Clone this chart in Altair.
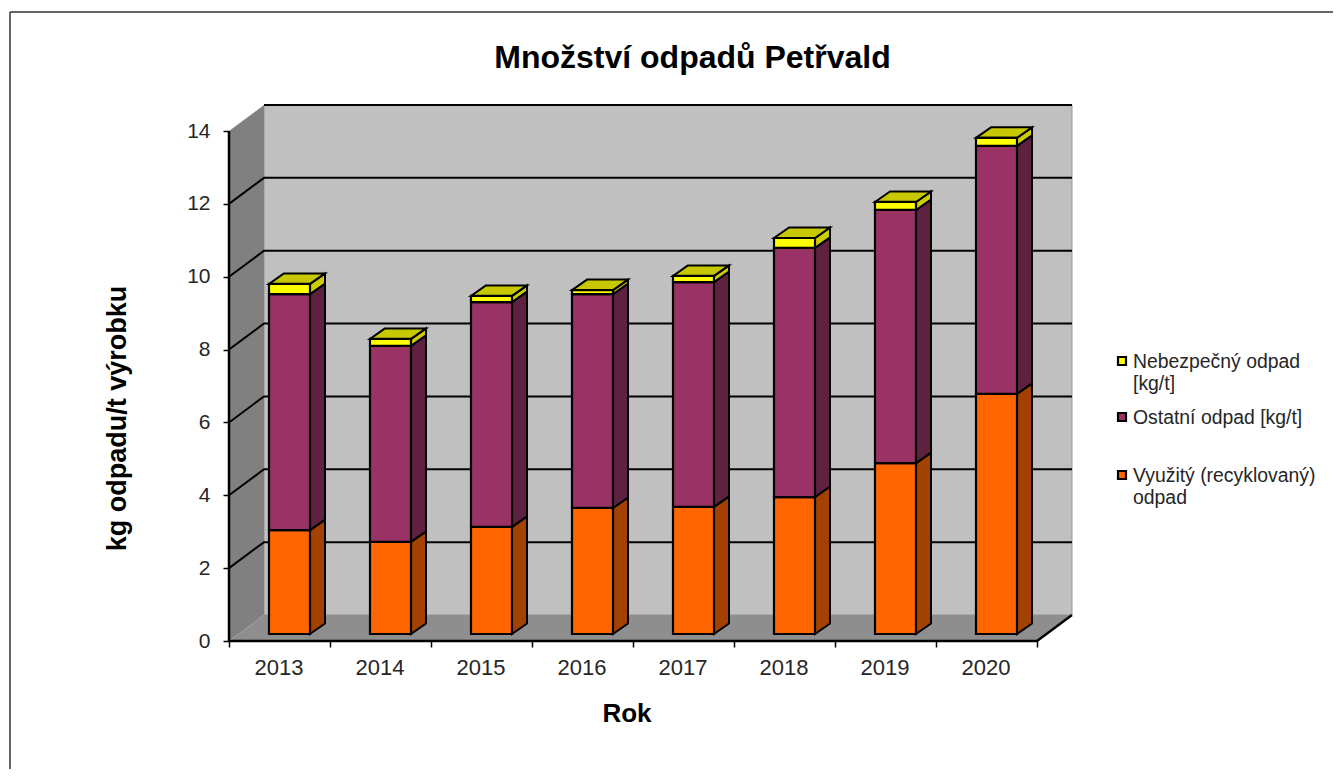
import altair as alt
import pandas as pd

YEARS = [2013, 2014, 2015, 2016, 2017, 2018, 2019, 2020]
RECYCLED = [2.85, 2.53, 2.94, 3.46, 3.49, 3.76, 4.69, 6.59]
OTHER = [6.48, 5.38, 6.17, 5.87, 6.17, 6.84, 6.95, 6.81]
HAZARD = [0.28, 0.19, 0.17, 0.11, 0.17, 0.27, 0.22, 0.22]
TICKS = list(range(0, 15, 2))
SERIES = ["Nebezpečný odpad [kg/t]", "Ostatní odpad [kg/t]", "Využitý (recyklovaný) odpad"]
LEGEND_TEXT = ["Nebezpečný odpad\n[kg/t]", "Ostatní odpad [kg/t]", "Využitý (recyklovaný)\nodpad"]
FRONT = ["#FFFF00", "#993366", "#FF6600"]
SIDE = ["#CCCC00", "#5F2140", "#A34200"]
TOP = "#C8C800"
FONT = "Liberation Sans"
INK = "#262626"

# projection of the 3D look, in plot pixels
PW, PH = 843, 536
XU, YU = 101.0, 510 / 14
WX, WY = 35 / XU, 26 / YU         # wall depth
BX, BY = 15 / XU, 10.5 / YU       # bar depth
OX, OY = 40 / XU, 7 / YU          # bar front plane offset
BW = 41 / XU                      # bar width

X = alt.Scale(domain=[0, PW / XU], nice=False, zero=False)
Y = alt.Scale(domain=[0, PH / YU], nice=False, zero=False)
AX = alt.Axis(
    values=list(range(9)), title="Rok", titleFont=FONT, titleFontSize=26, titleFontWeight="bold",
    titleColor="black", titleX=397.5, titleY=80, titleBaseline="alphabetic",
    labelExpr=f"datum.value < 8 ? {YEARS[0]} + datum.value : ''", labelOffset=49.5, labelFont=FONT,
    labelFontSize=22, labelColor=INK, labelPadding=10, tickColor="black", tickSize=6, tickWidth=1.5,
    grid=False, domain=False, labelFlush=False, labelOverlap=False)
AY = alt.Axis(
    values=TICKS, title="kg odpadu/t výrobku", titleFont=FONT, titleFontSize=27, titleFontWeight="bold",
    titleColor="black", titleX=-98, titleY=313, labelFont=FONT, labelFontSize=21, labelColor=INK,
    labelPadding=13, tickColor="black", tickSize=6, tickWidth=1.5, grid=False, domain=False)
xe = lambda f="x": alt.X(f"{f}:Q", scale=X, axis=AX)
ye = lambda f="y": alt.Y(f"{f}:Q", scale=Y, axis=AY)


def varea(rows, fill, stroke=None, sw=2):
    kw = {"stroke": stroke, "strokeWidth": sw} if stroke else {}
    return alt.Chart(pd.DataFrame(rows)).mark_area(fill=fill, opacity=1, **kw).encode(
        x=xe(), y=ye(), y2=alt.Y2("y2:Q"), detail="k:N"
    )


def harea(rows, fill, stroke=None, sw=2):
    kw = {"stroke": stroke, "strokeWidth": sw} if stroke else {}
    return alt.Chart(pd.DataFrame(rows)).mark_area(fill=fill, opacity=1, orient="horizontal", **kw).encode(
        y=ye(), x=xe(), x2=alt.X2("x2:Q"), detail="k:N"
    )


def lines(rows, color="black", sw=2):
    return alt.Chart(pd.DataFrame(rows)).mark_line(color=color, strokeWidth=sw).encode(
        x=xe(), y=ye(), detail="k:N"
    )


layers = []

# walls and floor
layers.append(alt.Chart(pd.DataFrame({"x": [WX], "x2": [PW / XU], "y": [WY], "y2": [PH / YU]}))
              .mark_rect(fill="#C0C0C0", stroke="#969696", strokeWidth=1)
              .encode(x=xe(), x2="x2:Q", y=ye(), y2="y2:Q"))
layers.append(varea([{"k": 0, "x": 0.0, "y": 0.0, "y2": 14.0}, {"k": 0, "x": WX, "y": WY, "y2": 14 + WY}], "#808080"))
layers.append(harea([{"k": 0, "y": 0.0, "x": 0.0, "x2": 8.0}, {"k": 0, "y": WY, "x": WX, "x2": 8 + WX}], "#8E8E8E"))

# gridlines: diagonal on the side wall, horizontal on the back wall
grid = []
for t in TICKS[1:]:
    if t < TICKS[-1]:
        grid.append({"k": t, "x": 0.0, "y": t})
    grid += [{"k": t, "x": WX, "y": t + WY}, {"k": t, "x": 8 + WX, "y": t + WY}]
layers.append(lines(grid))

# axis lines
edges = [
    {"k": "l", "x": 0.0, "y": 0.0}, {"k": "l", "x": 0.0, "y": 14.0},
    {"k": "b", "x": 0.0, "y": 0.0}, {"k": "b", "x": 8.0, "y": 0.0}, {"k": "b", "x": 8 + WX, "y": WY},
]
layers.append(lines(edges, sw=2.5))

# bars, bottom segment first
front_rows, side_rows, top_rows = [], {s: [] for s in SERIES}, []
for i, yr in enumerate(YEARS):
    base = 0.0
    for name, val in [(SERIES[2], RECYCLED[i]), (SERIES[1], OTHER[i]), (SERIES[0], HAZARD[i])]:
        left, right = i + OX, i + OX + BW
        lo, hi = base + OY, base + val + OY
        front_rows.append({"x": left, "x2": right, "y": lo, "y2": hi, "s": name})
        side_rows[name] += [
            {"k": yr, "x": right, "y": lo, "y2": hi},
            {"k": yr, "x": right + BX, "y": lo + BY, "y2": hi + BY},
        ]
        base += val
    top_rows += [
        {"k": yr, "y": base + OY, "x": i + OX, "x2": i + OX + BW},
        {"k": yr, "y": base + OY + BY, "x": i + OX + BX, "x2": i + OX + BW + BX},
    ]

for j in (2, 1, 0):
    layers.append(varea(side_rows[SERIES[j]], SIDE[j], "black"))
layers.append(harea(top_rows, TOP, "black"))

layers.append(
    alt.Chart(pd.DataFrame(front_rows)).mark_rect(stroke="black", strokeWidth=2.2, opacity=1).encode(
        x=xe(), x2="x2:Q", y=ye(), y2="y2:Q",
        fill=alt.Fill("s:N", scale=alt.Scale(domain=SERIES, range=FRONT), legend=None),
    )
)

# legend: hand-placed keys so that a wrapped label's first line sits level with its key
LEG_SYMBOL_Y = [256, 312, 370]
LEG_TEXT_Y = [247.5, 303.5, 361.5]
one = pd.DataFrame({"a": [0]})
for name, txt, col, sy, ty in zip(SERIES, LEGEND_TEXT, FRONT, LEG_SYMBOL_Y, LEG_TEXT_Y):
    layers.append(alt.Chart(one).mark_square(size=64, fill=col, stroke="black", strokeWidth=2.2, opacity=1).encode(
        x=alt.value(893), y=alt.value(sy)))
    layers.append(alt.Chart(pd.DataFrame({"t": [txt]})).mark_text(
        font=FONT, fontSize=19.4, color=INK, align="left", baseline="top", lineBreak="\n", lineHeight=22
    ).encode(x=alt.value(904), y=alt.value(ty), text="t:N"))

# outer frame of the picture: only its top and left edges are visible
layers.append(alt.Chart(one).mark_rule(color="#333333", strokeWidth=1.5).encode(
    x=alt.value(-219), x2=alt.value(1112), y=alt.value(-93)))
layers.append(alt.Chart(one).mark_rule(color="#333333", strokeWidth=1.5).encode(
    x=alt.value(-219), y=alt.value(-93), y2=alt.value(680)))

chart = alt.layer(*layers).properties(
    width=PW, height=PH, autosize="none",
    padding={"left": 221, "top": 97, "right": 261, "bottom": 128},
    background="white",
    title=alt.TitleParams("Množství odpadů Petřvald", font=FONT, fontSize=32, fontWeight="bold", color="black",
                          anchor="middle", dx=42, dy=100, offset=36),
).configure_view(stroke=None)

chart.save("out.html", embed_options={"renderer": "svg", "actions": False})
